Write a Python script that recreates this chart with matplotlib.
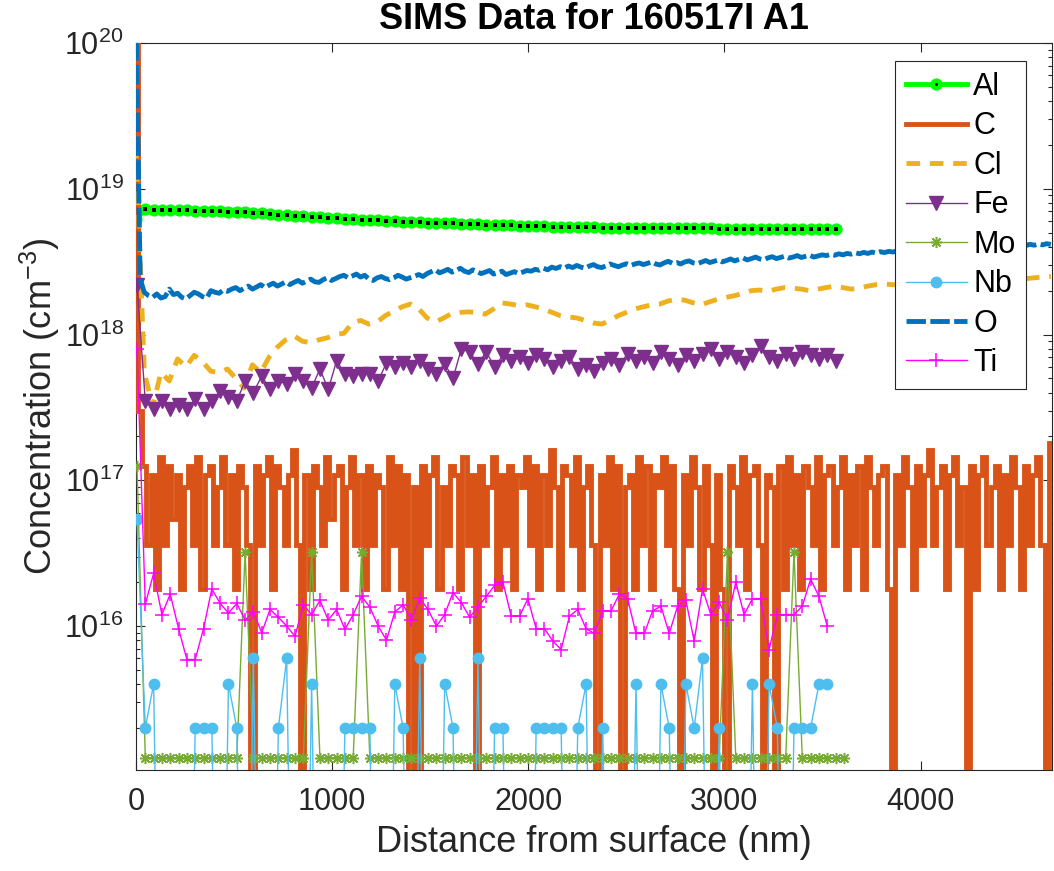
import numpy as np
import matplotlib
matplotlib.use('Agg')
import matplotlib.pyplot as plt
from matplotlib.ticker import LogLocator, NullFormatter, FixedLocator

plt.rcParams['font.family'] = ['Liberation Sans', 'DejaVu Sans']
plt.rcParams['mathtext.fontset'] = 'custom'
plt.rcParams['mathtext.rm'] = 'Liberation Sans'
plt.rcParams['mathtext.it'] = 'Liberation Sans:italic'
plt.rcParams['mathtext.bf'] = 'Liberation Sans:bold'

# ---------------- data ----------------
fine_step_nm = 21.2      # sampling step of C, O
cl_step_nm = 42.4        # sampling step of Cl
coarse_start_nm = 5.0    # Al, Fe, Mo, Nb, Ti sampling
coarse_step_nm = 42.4

# Al (1e18 cm^-3)
al = [6.2,
      7.22, 7.20, 7.18, 7.14, 7.12, 7.10, 7.08, 7.06, 7.04, 7.00,
      6.95, 6.92, 6.88, 6.84, 6.78, 6.72, 6.66, 6.60, 6.55, 6.50,
      6.45, 6.40, 6.35, 6.30, 6.25, 6.20, 6.15, 6.12, 6.08, 6.04,
      6.00, 5.96, 5.93, 5.90, 5.87, 5.84, 5.81, 5.78, 5.75, 5.72,
      5.70, 5.67, 5.65, 5.62, 5.60, 5.58, 5.56, 5.54, 5.52, 5.51,
      5.49, 5.48, 5.46, 5.45, 5.44, 5.42, 5.41, 5.40, 5.40, 5.39,
      5.38, 5.38, 5.37, 5.36, 5.36, 5.35, 5.35, 5.34, 5.34, 5.33,
      5.33, 5.32, 5.32, 5.32, 5.31, 5.31, 5.30, 5.30, 5.30, 5.29,
      5.29, 5.29, 5.28, 5.28]

# C: surface values (cm^-3) followed by counts of the level c_level
c_surface = [1.0e20, 3.0e17]
c_level = 1.8e16
c_counts = [7, 2, 6, 1, 8, 2, 7, 3, 6, 1,
            5, 7, 2, 8, 1, 6, 7, 2, 5, 8,
            2, 6, 1, 7, 5, 2, 0, 7, 2, 6,
            8, 1, 7, 5, 2, 6, 9, 2, 0, 6,
            1, 7, 5, 2, 8, 3, 6, 7, 1, 5,
            8, 2, 6, 1, 7, 2, 6, 5, 1, 8,
            2, 7, 1, 6, 0, 5, 0, 7, 2, 6,
            8, 1, 5, 2, 7, 6, 1, 8, 2, 6,
            0, 7, 2, 5, 8, 1, 6, 2, 7, 1,
            6, 5, 8, 2, 7, 1, 6, 2, 9, 5,
            1, 7, 6, 2, 8, 1, 5, 7, 2, 0,
            6, 2, 8, 1, 7, 0, 5, 6, 1, 8,
            2, 7, 1, 6, 5, 8, 2, 7, 1, 0,
            6, 2, 8, 5, 1, 7, 2, 0, 6, 1,
            0, 7, 5, 2, 8, 1, 6, 7, 2, 0,
            6, 5, 0, 7, 1, 8, 2, 6, 1, 7,
            5, 2, 8, 1, 6, 7, 2, 5, 8, 1,
            6, 2, 7, 1, 8, 5, 2, 6, 7, 1,
            0, 6, 2, 8, 5, 1, 7, 2, 6, 9,
            2, 5, 7, 1, 6, 8, 2, 5, 0, 7,
            1, 6, 8, 2, 5, 7, 1, 6, 2, 8,
            5, 1, 7, 2, 6, 8, 2, 0, 10]

# Cl (1e18 cm^-3)
cl = [20.0, 0.55, 0.32, 0.55, 0.48, 0.68, 0.60, 0.72, 0.65, 0.56,
      0.55, 0.58, 0.50, 0.43, 0.62, 0.55, 0.70, 0.82, 0.92, 0.98,
      0.90, 0.88, 0.92, 0.95, 1.00, 1.02, 1.20, 1.25, 1.18, 1.22,
      1.35, 1.45, 1.55, 1.62, 1.50, 1.30, 1.22, 1.30, 1.40, 1.42,
      1.43, 1.42, 1.38, 1.50, 1.65, 1.62, 1.58, 1.60, 1.55, 1.50,
      1.42, 1.35, 1.32, 1.30, 1.25, 1.20, 1.18, 1.25, 1.35, 1.42,
      1.50, 1.55, 1.60, 1.62, 1.70, 1.75, 1.72, 1.65, 1.60, 1.68,
      1.75, 1.80, 1.85, 1.92, 2.00, 2.02, 1.98, 2.05, 2.10, 2.08,
      2.05, 2.00, 2.05, 2.10, 2.15, 2.10, 2.05, 2.08, 2.15, 2.20,
      2.22, 2.20, 2.18, 2.20, 2.25, 2.28, 2.25, 2.30, 2.32, 2.35,
      2.30, 2.35, 2.38, 2.40, 2.36, 2.40, 2.45, 2.42, 2.45, 2.48,
      2.50]

# Fe (1e17 cm^-3)
fe = [22.0, 3.5, 3.1, 3.5, 3.1, 3.3, 3.1, 3.6, 3.1, 3.5,
      4.1, 3.7, 3.5, 4.8, 4.0, 5.2, 4.2, 4.8, 4.6, 5.4,
      4.8, 4.3, 5.8, 4.2, 6.6, 5.4, 5.2, 5.4, 5.4, 4.8,
      6.4, 6.0, 6.4, 6.0, 6.6, 5.8, 5.4, 6.3, 5.0, 8.0,
      7.6, 6.3, 7.6, 6.0, 7.2, 6.6,
      7.0, 6.4, 7.2, 6.8, 6.0, 6.6, 7.0, 5.8, 6.2, 5.6,
      6.4, 6.8, 6.2, 7.4, 6.6, 7.0, 6.4, 7.6, 6.8, 6.2,
      7.2, 6.6, 7.4, 8.0, 6.8, 7.6, 7.0, 6.4, 7.2, 8.4,
      7.0, 6.6, 7.4, 6.8, 7.6, 7.2, 6.8, 7.2, 6.6]

# Mo (1e15 cm^-3)
mo = [126.0, 1.25, 1.25, 1.25, 1.25, 1.25, 1.25, 1.25, 1.25, 1.25,
      1.25, 1.25, 1.25, 32.0, 1.25, 1.25, 1.25, 1.25, 1.25, 1.25,
      1.25, 32.0, 1.25, 1.25, 1.25, 1.25, 1.25, 32.0, 1.25, 1.25,
      1.25, 1.25, 1.25, 1.25, 1.25, 1.25, 1.25, 1.25, 1.25, 1.25,
      1.25, 1.25, 1.25, 1.25, 1.25, 1.25, 1.25, 1.25, 1.25, 1.25,
      1.25, 1.25, 1.25, 1.25, 1.25, 1.25, 1.25, 1.25, 1.25, 1.25,
      1.25, 1.25, 1.25, 1.25, 1.25, 1.25, 1.25, 1.25, 1.25, 1.25,
      1.25, 32.0, 1.25, 1.25, 1.25, 1.25, 1.25, 1.25, 1.25, 32.0,
      1.25, 1.25, 1.25, 1.25, 1.25, 1.25]

# Nb (1e15 cm^-3), 0 = below detection
nb = [54, 2, 4, 0, 0, 0, 0, 2, 2, 2,
      0, 4, 2, 0, 6, 0, 0, 2, 6, 0,
      0, 4, 0, 0, 0, 2, 2, 2, 2, 0,
      0, 4, 2, 0, 6, 0, 0, 4, 2, 0,
      0, 6, 0, 2, 2, 0, 0, 0, 2, 2,
      2, 2, 0, 2, 4, 0, 2, 0, 0, 0,
      4, 0, 0, 4, 2, 0, 4, 2, 6, 0,
      2, 0, 0, 0, 4, 0, 4, 2, 0, 2,
      2, 2, 4, 4]

# O (1e18 cm^-3)
o = [150.0, 2.40,
     1.95, 1.85, 1.80, 1.90, 1.78, 1.82, 2.05, 1.88, 1.92, 1.80,
     1.76, 1.85, 1.95, 1.90, 1.82, 1.78, 2.00, 1.95,
     1.92, 2.02, 1.98, 2.05, 2.10, 2.00, 2.08, 2.15, 2.05, 2.12,
     2.20, 2.10, 2.18, 2.25, 2.15, 2.22, 2.30, 2.20, 2.28, 2.35,
     2.25, 2.32, 2.40, 2.30, 2.28, 2.38, 2.45, 2.35,
     2.42, 2.50, 2.55, 2.45, 2.52, 2.60, 2.48, 2.55, 2.40, 2.35,
     2.45, 2.50, 2.42, 2.38, 2.45, 2.55, 2.48, 2.40, 2.46, 2.52,
     2.58, 2.50, 2.62,
     2.70, 2.78, 2.65, 2.72, 2.80, 2.68, 2.75, 2.85, 2.72, 2.66,
     2.78, 2.70, 2.62, 2.68, 2.75, 2.60, 2.65, 2.72, 2.58, 2.64,
     2.70, 2.62, 2.68, 2.75,
     2.72, 2.80, 2.76, 2.85, 2.78, 2.90, 2.84, 2.92, 2.86, 2.95,
     2.88, 2.98, 2.90, 2.85, 2.95, 3.02, 2.92, 2.88, 2.96, 3.05,
     2.98, 2.92, 3.00, 3.06,
     2.98, 3.05, 3.10, 3.02, 3.08, 3.15, 3.05, 3.00, 3.10, 3.18,
     3.08, 3.12, 3.05, 3.15, 3.20, 3.10, 3.06, 3.14, 3.22, 3.12,
     3.18, 3.25, 3.15,
     3.22, 3.30, 3.20, 3.28, 3.35, 3.25, 3.32, 3.40, 3.30, 3.26,
     3.36, 3.42, 3.32, 3.38, 3.45, 3.35, 3.40, 3.48, 3.38, 3.44,
     3.50, 3.40, 3.46, 3.52,
     3.48, 3.55, 3.50, 3.58, 3.52, 3.60, 3.56, 3.64, 3.58, 3.66,
     3.60, 3.68, 3.62, 3.70, 3.65, 3.72, 3.68, 3.75, 3.70, 3.78,
     3.72, 3.80, 3.76,
     3.82, 3.78, 3.86, 3.80, 3.88, 3.84, 3.92, 3.86, 3.95, 3.90,
     3.98, 3.92, 4.00, 3.95, 4.02, 3.98, 4.06, 4.00, 4.08, 4.02,
     4.10, 4.05, 4.12, 4.06, 4.14, 4.08, 4.16, 4.10, 4.18, 4.12,
     4.20, 4.15]

# Ti (1e16 cm^-3)
ti = [80.0,
      1.41, 2.30, 1.20, 1.66, 0.96, 0.59, 0.59, 0.96, 1.80, 1.43, 1.23, 1.43,
      1.10, 1.25, 0.90, 1.30, 1.15, 1.00, 0.85, 1.40, 1.20, 1.50,
      1.10, 1.30, 0.95, 1.20, 1.60, 1.35, 1.00, 0.80, 1.25, 1.40,
      1.10, 1.55, 1.30, 1.00, 1.20, 1.70, 1.45, 1.15, 1.35, 1.60, 1.90,
      2.00, 1.17, 1.17, 1.54, 0.96, 0.96, 0.79, 0.69, 1.17, 1.30,
      0.96, 0.89, 1.27, 1.27, 1.66, 1.54, 0.89, 0.89, 1.27, 1.37,
      0.89, 1.37, 1.50, 0.79, 1.80, 1.20, 1.46, 1.10, 2.00, 1.20,
      1.54, 1.54, 0.69, 1.20, 1.20, 1.20, 1.37, 2.10, 1.60, 1.00]

species = ['Al', 'C', 'Cl', 'Fe', 'Mo', 'Nb', 'O', 'Ti']

# ---------------- build arrays ----------------
floor = 1e12  # zero values drawn below the axis bottom

def grid_x(n, step, start=0.0):
    return start + np.arange(n) * step

al_v = np.array(al) * 1e18
c_v = np.concatenate([c_surface, np.array(c_counts) * c_level])
c_v = np.where(c_v > 0, c_v, floor)
cl_v = np.array(cl) * 1e18
fe_v = np.array(fe) * 1e17
mo_v = np.array(mo) * 1e15
nb_v = np.array(nb, dtype=float) * 1e15
nb_v = np.where(nb_v > 0, nb_v, floor)
o_v = np.array(o) * 1e18
ti_v = np.array(ti) * 1e16

W, H = 1054, 871
fig = plt.figure(figsize=(W / 100, H / 100), dpi=100)
ax = fig.add_axes([136 / W, (H - 770) / H, 916 / W, 727 / H])
ax.set_yscale('log')

thick = 3.5
thin = 1.0
col = {'Al': '#00FF00', 'C': '#D95319', 'Cl': '#EDB120', 'Fe': '#7E2F8E',
       'Mo': '#77AC30', 'Nb': '#4DBEEE', 'O': '#0072BD', 'Ti': '#FF00FF'}

h = {}
xa = grid_x(len(al_v), coarse_step_nm, coarse_start_nm)
xa[0] = 0.0
h['Al'], = ax.plot(xa, al_v, '-', color=col['Al'], lw=thick, marker='o',
                   ms=5.5, mew=3.3, mec=col['Al'], mfc='k', zorder=2)
ax.plot(xa, al_v, ls='none', marker='s', ms=2.3, mew=0, mfc='k', zorder=2.1)
h['C'], = ax.plot(grid_x(len(c_v), fine_step_nm), c_v, '-', color=col['C'],
                  lw=thick, drawstyle='steps-mid', solid_joinstyle='miter',
                  zorder=3)
h['Cl'], = ax.plot(grid_x(len(cl_v), cl_step_nm), cl_v, color=col['Cl'],
                   lw=thick, ls=(0, (2.8, 2.0)), zorder=4)
h['Fe'], = ax.plot(grid_x(len(fe_v), coarse_step_nm, coarse_start_nm), fe_v,
                   '-', color=col['Fe'], lw=thin, marker='v', ms=10,
                   mfc=col['Fe'], mec=col['Fe'], zorder=5)
h['Mo'], = ax.plot(grid_x(len(mo_v), coarse_step_nm, coarse_start_nm), mo_v,
                   '-', color=col['Mo'], lw=thin, marker=(8, 2, 0), ms=8,
                   mew=1.1, mec=col['Mo'], zorder=6)
h['Nb'], = ax.plot(grid_x(len(nb_v), coarse_step_nm, coarse_start_nm), nb_v,
                   '-', color=col['Nb'], lw=thin, marker='o', ms=7.5,
                   mfc=col['Nb'], mec=col['Nb'], zorder=7)
h['O'], = ax.plot(grid_x(len(o_v), fine_step_nm), o_v, color=col['O'],
                  lw=thick, ls=(0, (4.0, 0.9)), zorder=8)
h['Ti'], = ax.plot(grid_x(len(ti_v), coarse_step_nm, coarse_start_nm), ti_v,
                   '-', color=col['Ti'], lw=thin, marker='+', ms=9.5, mew=1.1,
                   zorder=9)

ax.set_xlim(0, 4670)
ax.set_ylim(1.03e15, 1.0e20)

axcol = '#262626'
ax.xaxis.set_major_locator(FixedLocator([0, 1000, 2000, 3000, 4000]))
ax.yaxis.set_major_locator(LogLocator(base=10, numticks=20))
ax.yaxis.set_minor_locator(LogLocator(base=10, subs=np.arange(2, 10), numticks=20))
ax.yaxis.set_minor_formatter(NullFormatter())
ax.tick_params(which='both', direction='in', top=True, right=True,
               colors=axcol, width=0.8)
ax.tick_params(which='major', length=6.5, labelsize=22)
ax.tick_params(which='minor', length=3.2)
ax.tick_params(axis='x', pad=12)
ax.tick_params(axis='y', pad=9)
for s in ax.spines.values():
    s.set_color(axcol)
    s.set_linewidth(0.8)

ax.set_title('SIMS Data for 160517I A1', fontsize=26, fontweight='bold',
             pad=10, color='black')
ax.set_xlabel('Distance from surface (nm)', fontsize=26, labelpad=6, color=axcol)
ax.set_ylabel('Concentration (cm$^{-3}$)', fontsize=26, labelpad=2, color=axcol)

leg = ax.legend([h[s] for s in species], species, loc='upper right',
                bbox_to_anchor=(0.9716, 0.975), borderaxespad=0, fontsize=22,
                handlelength=2.0, handletextpad=0.2, labelspacing=0.31,
                borderpad=0.35, fancybox=False, framealpha=1, numpoints=1)
leg.get_frame().set_edgecolor(axcol)
leg.get_frame().set_linewidth(0.8)
leg.set_zorder(20)

fig.savefig('out.png', dpi=100, facecolor='white')
